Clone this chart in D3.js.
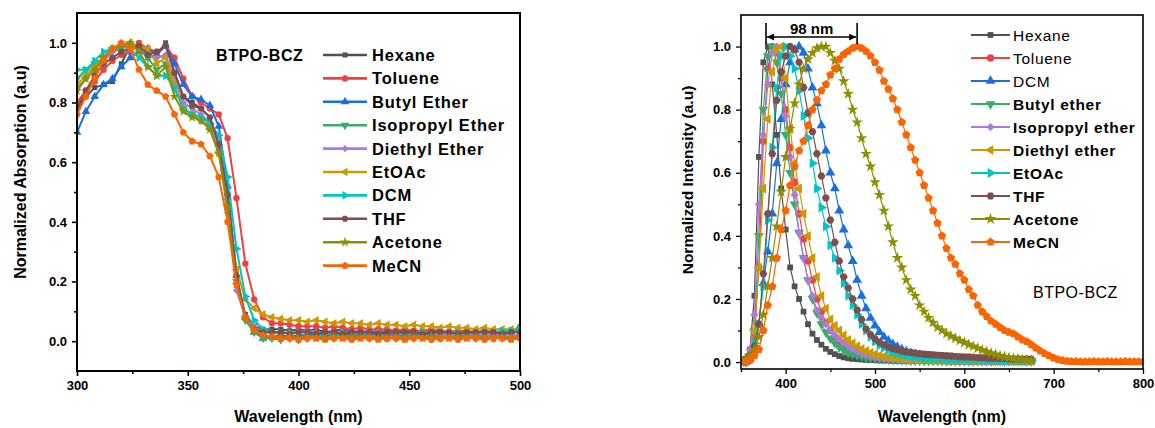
<!DOCTYPE html>
<html><head><meta charset="utf-8">
<script src="https://cdn.jsdelivr.net/npm/d3@7"></script>
<style>
body{margin:0;background:#fff}
text{font-family:Arial,"Liberation Sans",sans-serif;fill:#000}
</style>
</head><body>
<svg id="chart" width="1155" height="428"></svg>
<script>
// ---------- DATA ----------
const colors = ["#515151","#F14040","#1A6FDF","#37AD6B","#B177DE","#CC9900","#00C4C6","#7D4E4E","#8E8E00","#FB6501"];

// Absorption (left panel)
const absWl = d3.range(300, 501, 4);
const absNames = ["Hexane","Toluene","Butyl Ether","Isopropyl Ether","Diethyl Ether","EtOAc","DCM","THF","Acetone","MeCN"];
const absHexane = [0.78,0.82,0.85,0.86,0.87,0.93,0.99,0.98,0.95,0.96,1.00,0.90,0.82,0.80,0.78,0.75,0.66,0.48,0.20,0.09,0.05,0.04,
 0.04,0.04,0.035,0.04,0.035,0.04,0.03,0.035,0.04,0.03,0.035,0.03,0.035,0.03,0.035,0.03,0.035,0.03,0.03,0.035,0.03,0.035,0.03,0.03,0.035,0.03,0.03,0.035,0.03];
const absToluene = [0.80,0.84,0.87,0.91,0.94,0.96,0.97,1.00,0.98,0.97,0.99,0.95,0.88,0.82,0.80,0.78,0.76,0.68,0.48,0.26,0.14,0.08,
 0.06,0.06,0.055,0.05,0.05,0.05,0.045,0.05,0.045,0.04,0.045,0.04,0.04,0.04,0.035,0.04,0.035,0.035,0.04,0.035,0.03,0.035,0.035,0.03,0.035,0.03,0.03,0.035,0.03];
const absButyl = [0.70,0.77,0.82,0.86,0.88,0.92,0.95,0.97,0.98,0.96,0.99,0.93,0.86,0.82,0.81,0.79,0.72,0.52,0.22,0.08,0.03,0.01,
 0.015,0.02,0.015,0.02,0.02,0.025,0.02,0.02,0.025,0.02,0.02,0.025,0.02,0.025,0.02,0.02,0.025,0.02,0.025,0.02,0.025,0.02,0.02,0.025,0.02,0.025,0.03,0.03,0.05];
const absIsopropyl = [0.88,0.91,0.93,0.95,0.97,0.98,0.99,0.98,0.95,0.91,0.93,0.85,0.78,0.76,0.74,0.72,0.65,0.47,0.20,0.07,0.03,0.01,
 0.01,0.005,0.01,0.005,0.01,0.015,0.01,0.01,0.015,0.01,0.015,0.01,0.015,0.01,0.01,0.015,0.01,0.015,0.01,0.01,0.015,0.01,0.015,0.01,0.015,0.01,0.01,0.015,0.01];
const absDiethyl = [0.85,0.88,0.91,0.94,0.97,0.99,1.00,0.98,0.96,0.95,0.96,0.88,0.80,0.78,0.76,0.73,0.64,0.43,0.17,0.08,0.05,0.03,
 0.03,0.025,0.03,0.03,0.035,0.03,0.025,0.03,0.03,0.025,0.03,0.025,0.03,0.025,0.03,0.025,0.025,0.03,0.025,0.02,0.025,0.02,0.025,0.02,0.02,0.025,0.02,0.02,0.02];
const absEtOAc = [0.86,0.89,0.92,0.95,0.98,0.99,1.00,0.99,0.98,0.93,0.95,0.86,0.78,0.76,0.74,0.71,0.63,0.46,0.24,0.14,0.11,0.09,
 0.08,0.075,0.07,0.07,0.065,0.07,0.065,0.06,0.065,0.06,0.06,0.055,0.06,0.055,0.055,0.05,0.055,0.05,0.05,0.045,0.05,0.045,0.045,0.04,0.045,0.04,0.04,0.04,0.04];
const absDCM = [0.91,0.91,0.94,0.97,0.98,0.99,0.98,0.95,0.92,0.89,0.89,0.85,0.78,0.76,0.75,0.73,0.69,0.55,0.31,0.15,0.07,0.04,
 0.03,0.03,0.025,0.03,0.03,0.025,0.03,0.025,0.03,0.03,0.025,0.03,0.025,0.03,0.03,0.025,0.03,0.03,0.025,0.03,0.03,0.03,0.025,0.03,0.03,0.03,0.035,0.035,0.04];
const absTHF = [0.78,0.84,0.89,0.93,0.95,0.97,0.98,0.99,0.96,0.97,0.99,0.90,0.82,0.79,0.78,0.75,0.66,0.49,0.22,0.08,0.04,0.03,
 0.03,0.03,0.025,0.03,0.03,0.025,0.03,0.03,0.025,0.03,0.03,0.03,0.025,0.03,0.03,0.03,0.03,0.025,0.03,0.03,0.03,0.025,0.03,0.03,0.03,0.03,0.025,0.03,0.03];
const absAcetone = [0.84,0.88,0.91,0.95,0.98,0.99,1.00,0.97,0.92,0.89,0.92,0.82,0.77,0.75,0.74,0.71,0.63,0.45,0.19,0.08,0.04,0.02,
 0.015,0.01,0.015,0.01,0.015,0.01,0.01,0.015,0.01,0.015,0.01,0.015,0.01,0.01,0.015,0.01,0.015,0.01,0.015,0.01,0.01,0.015,0.01,0.015,0.01,0.01,0.015,0.01,0.015];
const absMeCN = [0.76,0.82,0.88,0.94,0.98,1.00,0.98,0.91,0.86,0.84,0.82,0.76,0.70,0.67,0.66,0.62,0.55,0.40,0.19,0.08,0.035,0.02,
 0.015,0.01,0.01,0.005,0.01,0.01,0.005,0.01,0.01,0.005,0.01,0.01,0.005,0.01,0.01,0.005,0.01,0.01,0.005,0.01,0.01,0.005,0.01,0.01,0.005,0.01,0.01,0.005,0.01];
const absSeries = [absHexane,absToluene,absButyl,absIsopropyl,absDiethyl,absEtOAc,absDCM,absTHF,absAcetone,absMeCN];

// Emission (right panel)
const emWl = d3.range(355, 801, 5);
const emNames = ["Hexane","Toluene","DCM","Butyl ether","Isopropyl ether","Diethyl ether","EtOAc","THF","Acetone","MeCN"];
const emHexane = [0.01,0.04,0.21,0.65,0.95,1.00,0.88,0.72,0.55,0.42,0.30,0.24,0.20,0.16,0.12,0.09,0.07,0.055,0.042,0.032,0.025,0.019,0.015,0.012,0.01,0.009,0.008,0.007,0.006,0.006,
 0.005,0.005,0.005,0.004,0.004,0.004,0.004,0.004,0.003,0.003,0.003,0.003,0.003,0.003,0.003,0.003,0.002,0.002,0.002,0.002,0.002,0.002,0.002,0.002,0.002,0.002,0.002,0.002,0.002,0.002,0.002,0.002,0.002,0.002,0.002];
const emToluene = [0.0,0.02,0.08,0.30,0.70,0.93,1.00,0.98,0.90,0.80,0.68,0.57,0.47,0.39,0.32,0.26,0.20,0.16,0.125,0.10,0.08,0.065,0.052,0.043,0.036,0.03,0.025,0.021,0.018,0.015,
 0.013,0.012,0.011,0.01,0.009,0.008,0.008,0.007,0.007,0.006,0.006,0.006,0.005,0.005,0.005,0.005,0.004,0.004,0.004,0.004,0.004,0.004,0.003,0.003,0.003,0.003,0.003,0.003,0.003,0.003,0.003,0.003,0.003,0.003,0.003];
const emDCM = [0.0,0.01,0.04,0.12,0.25,0.35,0.47,0.63,0.77,0.88,0.95,0.99,1.00,0.98,0.93,0.87,0.82,0.75,0.67,0.60,0.55,0.48,0.42,0.37,0.32,0.26,0.21,0.17,0.14,0.115,
 0.095,0.08,0.068,0.057,0.048,0.04,0.034,0.029,0.025,0.022,0.02,0.018,0.016,0.015,0.014,0.013,0.012,0.011,0.01,0.01,0.009,0.009,0.008,0.008,0.008,0.007,0.007,0.007,0.006,0.006,0.006,0.006,0.005,0.005,0.005];
const emButyl = [0.0,0.02,0.10,0.40,0.80,0.97,1.00,0.95,0.85,0.72,0.60,0.50,0.41,0.33,0.26,0.20,0.155,0.12,0.095,0.075,0.06,0.047,0.037,0.03,0.025,0.021,0.018,0.015,0.013,0.011,
 0.01,0.009,0.008,0.007,0.007,0.006,0.006,0.005,0.005,0.005,0.004,0.004,0.004,0.004,0.004,0.003,0.003,0.003,0.003,0.003,0.003,0.003,0.003,0.003,0.003,0.003,0.003,0.003,0.003,0.003,0.003,0.003,0.003,0.003,0.003];
const emIsopropyl = [0.01,0.04,0.15,0.50,0.72,0.88,0.98,1.00,0.92,0.78,0.65,0.53,0.41,0.33,0.26,0.21,0.165,0.14,0.12,0.10,0.085,0.072,0.06,0.05,0.042,0.035,0.028,0.023,0.019,0.016,
 0.014,0.012,0.011,0.01,0.009,0.008,0.008,0.007,0.007,0.006,0.006,0.006,0.005,0.005,0.005,0.005,0.004,0.004,0.004,0.004,0.004,0.004,0.004,0.003,0.003,0.003,0.003,0.003,0.003,0.003,0.003,0.003,0.003,0.003,0.003];
const emDiethyl = [0.0,0.02,0.10,0.30,0.55,0.77,0.92,0.99,1.00,0.90,0.74,0.63,0.55,0.47,0.40,0.33,0.27,0.21,0.17,0.135,0.115,0.10,0.085,0.07,0.06,0.05,0.042,0.035,0.03,0.025,
 0.021,0.018,0.016,0.014,0.012,0.011,0.01,0.009,0.008,0.008,0.007,0.007,0.006,0.006,0.006,0.005,0.005,0.005,0.005,0.004,0.004,0.004,0.004,0.004,0.004,0.003,0.003,0.003,0.003,0.003,0.003,0.003,0.003,0.003,0.003];
const emEtOAc = [0.0,0.02,0.06,0.12,0.24,0.45,0.68,0.87,0.97,1.00,0.97,0.93,0.86,0.78,0.71,0.63,0.55,0.49,0.43,0.37,0.33,0.29,0.25,0.21,0.18,0.15,0.12,0.10,0.08,0.065,
 0.053,0.045,0.038,0.032,0.027,0.023,0.02,0.018,0.016,0.014,0.013,0.012,0.011,0.01,0.01,0.009,0.009,0.008,0.008,0.008,0.007,0.007,0.007,0.006,0.006,0.006,0.006,0.005,0.005,0.005,0.005,0.005,0.005,0.005,0.005];
const emTHF = [0.0,0.02,0.05,0.12,0.28,0.47,0.66,0.83,0.92,0.97,1.00,0.99,0.95,0.87,0.79,0.73,0.66,0.59,0.52,0.45,0.38,0.32,0.27,0.235,0.20,0.165,0.135,0.105,0.087,0.074,
 0.063,0.055,0.048,0.043,0.039,0.035,0.032,0.03,0.028,0.026,0.025,0.024,0.023,0.022,0.021,0.02,0.019,0.018,0.017,0.016,0.016,0.015,0.014,0.014,0.013,0.012,0.012,0.011,0.011,0.01,0.01,0.01,0.009,0.009,0.009];
const emAcetone = [0.01,0.02,0.04,0.08,0.15,0.24,0.33,0.43,0.54,0.65,0.74,0.82,0.88,0.93,0.96,0.98,0.995,1.00,1.00,0.98,0.955,0.93,0.89,0.85,0.80,0.76,0.71,0.66,0.62,0.57,
 0.53,0.48,0.43,0.38,0.33,0.30,0.26,0.23,0.21,0.18,0.16,0.14,0.125,0.11,0.10,0.09,0.082,0.075,0.068,0.062,0.055,0.05,0.044,0.038,0.033,0.028,0.024,0.02,0.017,0.014,0.012,0.01,0.008,0.006,0.005];
const emMeCN = [0.0,0.005,0.02,0.04,0.10,0.18,0.24,0.33,0.42,0.48,0.56,0.62,0.67,0.70,0.75,0.80,0.83,0.86,0.88,0.91,0.93,0.96,0.975,0.985,0.995,1.00,0.995,0.985,0.97,0.95,
 0.925,0.89,0.865,0.835,0.80,0.76,0.72,0.68,0.64,0.60,0.56,0.52,0.48,0.44,0.40,0.36,0.33,0.31,0.28,0.26,0.23,0.21,0.18,0.16,0.145,0.13,0.12,0.11,0.10,0.095,0.09,0.08,0.07,0.065,0.055,
 0.045,0.035,0.027,0.02,0.013,0.008,0.005,0.003,0.002,0.002,0.001,0.001,0.001,0.002,0.001,0.001,0.002,0.001,0.001,0.001,0.002,0.001,0.001,0.001,0.001];
const emSeries = [emHexane,emToluene,emDCM,emButyl,emIsopropyl,emDiethyl,emEtOAc,emTHF,emAcetone,emMeCN];

const absXTicks = [300,350,400,450,500], absXMinor = [325,375,425,475];
const yTicks = [0,0.2,0.4,0.6,0.8,1.0], yMinor = [0.1,0.3,0.5,0.7,0.9];
const emXTicks = [400,500,600,700,800], emXMinor = [350,450,550,650,750];
const shiftFrom = 378, shiftTo = 480, shiftLabel = "98 nm";

// ---------- SYMBOLS ----------
const hexagon = {draw(ctx,size){const r=Math.sqrt(size/(1.5*Math.sqrt(3)));for(let i=0;i<6;i++){const a=Math.PI/3*i;const x=r*Math.cos(a),y=r*Math.sin(a);i?ctx.lineTo(x,y):ctx.moveTo(x,y);}ctx.closePath();}};
const pentagon = {draw(ctx,size){const r=Math.sqrt(size/(2.5*Math.sin(2*Math.PI/5)));for(let i=0;i<5;i++){const a=-Math.PI/2+2*Math.PI/5*i;const x=r*Math.cos(a),y=r*Math.sin(a);i?ctx.lineTo(x,y):ctx.moveTo(x,y);}ctx.closePath();}};
const shapes = [
 {t:d3.symbolSquare,r:0,k:0.8},{t:d3.symbolCircle,r:0,k:1},{t:d3.symbolTriangle,r:0,k:1},{t:d3.symbolTriangle,r:180,k:1},
 {t:d3.symbolSquare,r:45,k:0.8},{t:d3.symbolTriangle,r:-90,k:1},{t:d3.symbolTriangle,r:90,k:1},{t:hexagon,r:0,k:1},
 {t:d3.symbolStar,r:0,k:1},{t:pentagon,r:0,k:1.1}];

const svg = d3.select("#chart");

function panel(cfg){
  const g = svg.append("g");
  const x = d3.scaleLinear().domain(cfg.xd).range(cfg.xr);
  const y = d3.scaleLinear().domain(cfg.yd).range(cfg.yr);
  const id = "clip"+cfg.name;
  svg.append("clipPath").attr("id",id).append("rect")
    .attr("x",cfg.xr[0]).attr("y",cfg.yr[1]).attr("width",cfg.xr[1]-cfg.xr[0]).attr("height",cfg.yr[0]-cfg.yr[1]);
  const plot = g.append("g").attr("clip-path",`url(#${id})`);
  cfg.series.forEach((vals,i)=>{
    const pts = vals.map((v,j)=>[cfg.wl[j],v]);
    plot.append("path").datum(pts)
      .attr("fill","none").attr("stroke",colors[i]).attr("stroke-width",cfg.lw)
      .attr("stroke-linejoin","round")
      .attr("d",d3.line().x(d=>x(d[0])).y(d=>y(d[1])));
    const s = shapes[i];
    const sp = d3.symbol().type(s.t).size(cfg.ms*s.k)();
    plot.append("g").selectAll("path").data(pts).join("path")
      .attr("d",sp).attr("fill",colors[i])
      .attr("transform",d=>`translate(${x(d[0])},${y(d[1])}) rotate(${s.r})`);
  });
  // frame
  g.append("rect").attr("x",cfg.xr[0]).attr("y",cfg.yr[1])
    .attr("width",cfg.xr[1]-cfg.xr[0]).attr("height",cfg.yr[0]-cfg.yr[1])
    .attr("fill","none").attr("stroke","#000").attr("stroke-width",cfg.fw);
  // axes
  const xa = g.append("g").attr("transform",`translate(0,${cfg.yr[0]})`)
    .call(d3.axisBottom(x).tickValues(cfg.xt).tickSize(5).tickPadding(5).tickFormat(d3.format("d")));
  const xm = g.append("g").attr("transform",`translate(0,${cfg.yr[0]})`)
    .call(d3.axisBottom(x).tickValues(cfg.xm).tickSize(3).tickFormat(""));
  const ya = g.append("g").attr("transform",`translate(${cfg.xr[0]},0)`)
    .call(d3.axisLeft(y).tickValues(yTicks).tickSize(5).tickPadding(5).tickFormat(d3.format(".1f")));
  const ym = g.append("g").attr("transform",`translate(${cfg.xr[0]},0)`)
    .call(d3.axisLeft(y).tickValues(yMinor).tickSize(3).tickFormat(""));
  [xa,xm,ya,ym].forEach(a=>{
    a.select(".domain").remove();
    a.selectAll("line").attr("stroke","#000").attr("stroke-width",cfg.fw*0.8);
    a.selectAll("text").attr("font-size",13).attr("font-weight","bold").attr("font-family","Arial, 'Liberation Sans', sans-serif");
  });
  // titles
  g.append("text").attr("x",(cfg.xr[0]+cfg.xr[1])/2).attr("y",416).attr("text-anchor","middle")
    .attr("dominant-baseline","central").attr("font-size",16).attr("font-weight","bold").text("Wavelength (nm)");
  g.append("text").attr("transform",`translate(${cfg.ytx},${cfg.yty}) rotate(-90)`).attr("text-anchor","middle")
    .attr("dominant-baseline","central").attr("font-size",cfg.ytfs).attr("font-weight","bold").text(cfg.ytitle);
  // legend
  const lg = g.append("g");
  cfg.names.forEach((n,i)=>{
    const yy = cfg.lg.y0 + cfg.lg.dy*i;
    lg.append("line").attr("x1",cfg.lg.x1).attr("x2",cfg.lg.x2).attr("y1",yy).attr("y2",yy)
      .attr("stroke",colors[i]).attr("stroke-width",cfg.lw+0.6);
    const s = shapes[i];
    lg.append("path").attr("d",d3.symbol().type(s.t).size(cfg.ms*s.k)())
      .attr("fill",colors[i]).attr("transform",`translate(${(cfg.lg.x1+cfg.lg.x2)/2},${yy}) rotate(${s.r})`);
    lg.append("text").attr("x",cfg.lg.tx).attr("y",yy).attr("dominant-baseline","central")
      .attr("font-size",cfg.lg.fs).attr("letter-spacing",cfg.lg.ls)
      .attr("font-weight",cfg.lg.bold(i)?"bold":"normal").text(n);
  });
  return {g,x,y};
}

// Left panel
const L = panel({name:"abs", xd:[300,500], xr:[77,520], yd:[-0.1,1.1], yr:[371,13],
  series:absSeries, wl:absWl, lw:2, ms:32, fw:2, xt:absXTicks, xm:absXMinor,
  ytitle:"Normalized Absorption (a.u)", ytx:20, yty:172, ytfs:16, names:absNames,
  lg:{y0:55, dy:23.4, x1:323, x2:367, tx:372, fs:16.5, ls:0.8, bold:()=>true}});
L.g.append("text").attr("x",216).attr("y",55).attr("dominant-baseline","central")
  .attr("font-size",16).attr("font-weight","bold").attr("letter-spacing",0.6).text("BTPO-BCZ");

// Right panel
const R = panel({name:"em", xd:[350,800], xr:[741,1143], yd:[-0.022,1.1], yr:[369,15],
  series:emSeries, wl:emWl, lw:1.2, ms:42, fw:1.6, xt:emXTicks, xm:emXMinor,
  ytitle:"Normalized Intensity (a.u)", ytx:687, yty:180, ytfs:15.5, names:emNames,
  lg:{y0:35, dy:23, x1:971, x2:1010, tx:1013, fs:15.5, ls:0.7, bold:i=>i>=3}});
R.g.append("text").attr("x",1033).attr("y",292).attr("dominant-baseline","central")
  .attr("font-size",16).attr("letter-spacing",0.5).text("BTPO-BCZ");

// 98 nm annotation
const defs = svg.append("defs");
defs.append("marker").attr("id","ah").attr("viewBox","0 0 10 10").attr("refX",10).attr("refY",5)
  .attr("markerWidth",5).attr("markerHeight",5).attr("orient","auto-start-reverse")
  .append("path").attr("d","M0,0L10,5L0,10z").attr("fill","#000");
const ax1 = R.x(shiftFrom), ax2 = R.x(shiftTo);
[ax1,ax2].forEach(xx=>R.g.append("line").attr("x1",xx).attr("x2",xx).attr("y1",23).attr("y2",44)
  .attr("stroke","#000").attr("stroke-width",1.6));
R.g.append("line").attr("x1",ax1+1).attr("x2",ax2-1).attr("y1",37).attr("y2",37)
  .attr("stroke","#000").attr("stroke-width",1.4)
  .attr("marker-start","url(#ah)").attr("marker-end","url(#ah)");
R.g.append("text").attr("x",(ax1+ax2)/2).attr("y",28).attr("text-anchor","middle")
  .attr("dominant-baseline","central").attr("font-size",15).attr("font-weight","bold").text(shiftLabel);
</script>
</body></html>
